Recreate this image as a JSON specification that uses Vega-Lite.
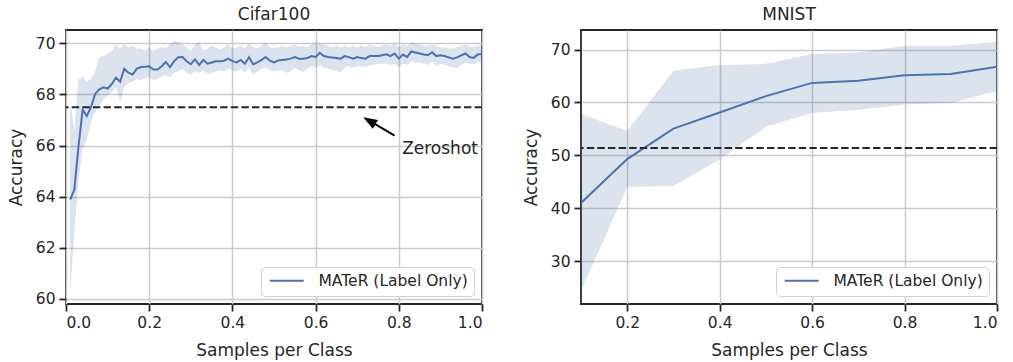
{
  "$schema": "https://vega.github.io/schema/vega-lite/v6.json",
  "padding": {"left": 6, "top": 5, "right": 8, "bottom": 0},
  "background": "white",
  "config": {
    "font": "DejaVu Sans",
    "view": {"stroke": "#262626", "strokeWidth": 1.8},
    "axis": {
      "grid": true, "gridColor": "#cccccc", "gridWidth": 1.5, "domain": false,
      "tickColor": "#262626", "tickWidth": 1.8, "tickSize": 7,
      "labelFontSize": 15.5, "labelColor": "#262626", "labelPadding": 4,
      "titleFontSize": 17, "titleFontWeight": "normal", "titleColor": "#262626"
    },
    "axisY": {"titlePadding": 10},
    "axisX": {"titlePadding": 12},
    "title": {"fontSize": 17, "fontWeight": "normal", "color": "#262626", "offset": 6},
    "legend": {
      "orient": "bottom-right", "offset": 8, "padding": 6, "strokeColor": "#d0d0d0",
      "fillColor": "white", "cornerRadius": 4, "labelFontSize": 15.5, "labelColor": "#262626",
      "symbolType": "M-1,0L5.8,0", "symbolStrokeWidth": 2, "symbolSize": 100, "labelOffset": 36
    }
  },
  "datasets": {
    "cifar": [
      {"x": 0.01, "m": 63.88, "hi": 67.8, "lo": 60.25, "series": "MATeR (Label Only)"},
      {"x": 0.02, "m": 64.27, "hi": 66.6, "lo": 62.6, "series": "MATeR (Label Only)"},
      {"x": 0.03, "m": 65.96, "hi": 68.6, "lo": 64.6, "series": "MATeR (Label Only)"},
      {"x": 0.04, "m": 67.40, "hi": 68.7, "lo": 65.9, "series": "MATeR (Label Only)"},
      {"x": 0.05, "m": 67.16, "hi": 68.5, "lo": 66.2, "series": "MATeR (Label Only)"},
      {"x": 0.06, "m": 67.50, "hi": 68.6, "lo": 66.9, "series": "MATeR (Label Only)"},
      {"x": 0.07, "m": 68.02, "hi": 68.9, "lo": 67.3, "series": "MATeR (Label Only)"},
      {"x": 0.08, "m": 68.20, "hi": 69.45, "lo": 67.55, "series": "MATeR (Label Only)"},
      {"x": 0.09, "m": 68.28, "hi": 69.5, "lo": 67.8, "series": "MATeR (Label Only)"},
      {"x": 0.10, "m": 68.23, "hi": 69.6, "lo": 67.95, "series": "MATeR (Label Only)"},
      {"x": 0.11, "m": 68.40, "hi": 69.7, "lo": 68.1, "series": "MATeR (Label Only)"},
      {"x": 0.12, "m": 68.66, "hi": 69.95, "lo": 68.3, "series": "MATeR (Label Only)"},
      {"x": 0.13, "m": 68.50, "hi": 69.8, "lo": 67.7, "series": "MATeR (Label Only)"},
      {"x": 0.14, "m": 69.00, "hi": 69.95, "lo": 68.3, "series": "MATeR (Label Only)"},
      {"x": 0.15, "m": 68.85, "hi": 69.85, "lo": 68.45, "series": "MATeR (Label Only)"},
      {"x": 0.16, "m": 68.78, "hi": 69.9, "lo": 68.5, "series": "MATeR (Label Only)"},
      {"x": 0.17, "m": 69.00, "hi": 69.8, "lo": 68.6, "series": "MATeR (Label Only)"},
      {"x": 0.18, "m": 69.07, "hi": 69.8, "lo": 68.55, "series": "MATeR (Label Only)"},
      {"x": 0.19, "m": 69.08, "hi": 69.7, "lo": 68.62, "series": "MATeR (Label Only)"},
      {"x": 0.20, "m": 69.10, "hi": 69.85, "lo": 68.7, "series": "MATeR (Label Only)"},
      {"x": 0.21, "m": 68.97, "hi": 69.7, "lo": 68.55, "series": "MATeR (Label Only)"},
      {"x": 0.22, "m": 68.97, "hi": 69.8, "lo": 68.6, "series": "MATeR (Label Only)"},
      {"x": 0.23, "m": 69.10, "hi": 69.85, "lo": 68.7, "series": "MATeR (Label Only)"},
      {"x": 0.24, "m": 69.27, "hi": 69.8, "lo": 68.75, "series": "MATeR (Label Only)"},
      {"x": 0.25, "m": 69.07, "hi": 69.95, "lo": 68.65, "series": "MATeR (Label Only)"},
      {"x": 0.26, "m": 69.30, "hi": 70.1, "lo": 68.85, "series": "MATeR (Label Only)"},
      {"x": 0.27, "m": 69.45, "hi": 70.05, "lo": 68.9, "series": "MATeR (Label Only)"},
      {"x": 0.28, "m": 69.46, "hi": 69.95, "lo": 69.0, "series": "MATeR (Label Only)"},
      {"x": 0.29, "m": 69.30, "hi": 69.85, "lo": 68.85, "series": "MATeR (Label Only)"},
      {"x": 0.30, "m": 69.18, "hi": 69.7, "lo": 68.75, "series": "MATeR (Label Only)"},
      {"x": 0.31, "m": 69.37, "hi": 69.95, "lo": 68.9, "series": "MATeR (Label Only)"},
      {"x": 0.32, "m": 69.15, "hi": 70.05, "lo": 68.85, "series": "MATeR (Label Only)"},
      {"x": 0.33, "m": 69.35, "hi": 69.75, "lo": 68.95, "series": "MATeR (Label Only)"},
      {"x": 0.34, "m": 69.20, "hi": 69.8, "lo": 68.8, "series": "MATeR (Label Only)"},
      {"x": 0.35, "m": 69.25, "hi": 69.9, "lo": 68.85, "series": "MATeR (Label Only)"},
      {"x": 0.36, "m": 69.30, "hi": 69.85, "lo": 68.9, "series": "MATeR (Label Only)"},
      {"x": 0.37, "m": 69.30, "hi": 69.75, "lo": 68.95, "series": "MATeR (Label Only)"},
      {"x": 0.38, "m": 69.32, "hi": 69.85, "lo": 68.9, "series": "MATeR (Label Only)"},
      {"x": 0.39, "m": 69.40, "hi": 69.95, "lo": 69.0, "series": "MATeR (Label Only)"},
      {"x": 0.40, "m": 69.30, "hi": 69.8, "lo": 68.95, "series": "MATeR (Label Only)"},
      {"x": 0.41, "m": 69.25, "hi": 69.85, "lo": 68.9, "series": "MATeR (Label Only)"},
      {"x": 0.42, "m": 69.35, "hi": 69.9, "lo": 69.0, "series": "MATeR (Label Only)"},
      {"x": 0.43, "m": 69.20, "hi": 69.8, "lo": 68.85, "series": "MATeR (Label Only)"},
      {"x": 0.44, "m": 69.46, "hi": 70.0, "lo": 69.05, "series": "MATeR (Label Only)"},
      {"x": 0.45, "m": 69.18, "hi": 69.85, "lo": 68.75, "series": "MATeR (Label Only)"},
      {"x": 0.46, "m": 69.25, "hi": 69.8, "lo": 68.9, "series": "MATeR (Label Only)"},
      {"x": 0.47, "m": 69.35, "hi": 69.9, "lo": 69.0, "series": "MATeR (Label Only)"},
      {"x": 0.48, "m": 69.46, "hi": 70.05, "lo": 69.05, "series": "MATeR (Label Only)"},
      {"x": 0.49, "m": 69.32, "hi": 69.85, "lo": 68.95, "series": "MATeR (Label Only)"},
      {"x": 0.50, "m": 69.25, "hi": 69.8, "lo": 68.9, "series": "MATeR (Label Only)"},
      {"x": 0.51, "m": 69.33, "hi": 69.85, "lo": 68.95, "series": "MATeR (Label Only)"},
      {"x": 0.52, "m": 69.35, "hi": 69.9, "lo": 68.95, "series": "MATeR (Label Only)"},
      {"x": 0.53, "m": 69.37, "hi": 69.85, "lo": 68.85, "series": "MATeR (Label Only)"},
      {"x": 0.54, "m": 69.40, "hi": 69.9, "lo": 68.9, "series": "MATeR (Label Only)"},
      {"x": 0.55, "m": 69.46, "hi": 69.95, "lo": 69.05, "series": "MATeR (Label Only)"},
      {"x": 0.56, "m": 69.40, "hi": 69.85, "lo": 68.95, "series": "MATeR (Label Only)"},
      {"x": 0.57, "m": 69.40, "hi": 69.9, "lo": 68.88, "series": "MATeR (Label Only)"},
      {"x": 0.58, "m": 69.42, "hi": 69.85, "lo": 69.0, "series": "MATeR (Label Only)"},
      {"x": 0.59, "m": 69.50, "hi": 69.95, "lo": 69.1, "series": "MATeR (Label Only)"},
      {"x": 0.60, "m": 69.46, "hi": 70.05, "lo": 69.05, "series": "MATeR (Label Only)"},
      {"x": 0.61, "m": 69.63, "hi": 70.0, "lo": 69.15, "series": "MATeR (Label Only)"},
      {"x": 0.62, "m": 69.50, "hi": 69.95, "lo": 69.05, "series": "MATeR (Label Only)"},
      {"x": 0.63, "m": 69.46, "hi": 69.9, "lo": 69.0, "series": "MATeR (Label Only)"},
      {"x": 0.64, "m": 69.44, "hi": 69.85, "lo": 68.95, "series": "MATeR (Label Only)"},
      {"x": 0.65, "m": 69.42, "hi": 69.9, "lo": 68.95, "series": "MATeR (Label Only)"},
      {"x": 0.66, "m": 69.40, "hi": 69.85, "lo": 68.85, "series": "MATeR (Label Only)"},
      {"x": 0.67, "m": 69.50, "hi": 69.9, "lo": 69.05, "series": "MATeR (Label Only)"},
      {"x": 0.68, "m": 69.46, "hi": 69.85, "lo": 69.1, "series": "MATeR (Label Only)"},
      {"x": 0.69, "m": 69.40, "hi": 69.9, "lo": 69.05, "series": "MATeR (Label Only)"},
      {"x": 0.70, "m": 69.46, "hi": 69.85, "lo": 69.1, "series": "MATeR (Label Only)"},
      {"x": 0.71, "m": 69.42, "hi": 69.9, "lo": 69.1, "series": "MATeR (Label Only)"},
      {"x": 0.72, "m": 69.40, "hi": 69.85, "lo": 69.05, "series": "MATeR (Label Only)"},
      {"x": 0.73, "m": 69.50, "hi": 69.95, "lo": 69.15, "series": "MATeR (Label Only)"},
      {"x": 0.74, "m": 69.50, "hi": 69.9, "lo": 69.15, "series": "MATeR (Label Only)"},
      {"x": 0.75, "m": 69.50, "hi": 69.85, "lo": 69.2, "series": "MATeR (Label Only)"},
      {"x": 0.76, "m": 69.53, "hi": 69.9, "lo": 69.2, "series": "MATeR (Label Only)"},
      {"x": 0.77, "m": 69.57, "hi": 69.95, "lo": 69.2, "series": "MATeR (Label Only)"},
      {"x": 0.78, "m": 69.50, "hi": 69.9, "lo": 69.15, "series": "MATeR (Label Only)"},
      {"x": 0.79, "m": 69.60, "hi": 70.0, "lo": 69.2, "series": "MATeR (Label Only)"},
      {"x": 0.80, "m": 69.40, "hi": 69.85, "lo": 69.05, "series": "MATeR (Label Only)"},
      {"x": 0.81, "m": 69.56, "hi": 69.95, "lo": 69.2, "series": "MATeR (Label Only)"},
      {"x": 0.82, "m": 69.46, "hi": 69.9, "lo": 69.15, "series": "MATeR (Label Only)"},
      {"x": 0.83, "m": 69.68, "hi": 70.05, "lo": 69.3, "series": "MATeR (Label Only)"},
      {"x": 0.84, "m": 69.64, "hi": 70.0, "lo": 69.25, "series": "MATeR (Label Only)"},
      {"x": 0.85, "m": 69.60, "hi": 69.95, "lo": 69.25, "series": "MATeR (Label Only)"},
      {"x": 0.86, "m": 69.56, "hi": 69.9, "lo": 69.2, "series": "MATeR (Label Only)"},
      {"x": 0.87, "m": 69.53, "hi": 69.9, "lo": 69.15, "series": "MATeR (Label Only)"},
      {"x": 0.88, "m": 69.65, "hi": 69.95, "lo": 69.3, "series": "MATeR (Label Only)"},
      {"x": 0.89, "m": 69.50, "hi": 69.9, "lo": 69.1, "series": "MATeR (Label Only)"},
      {"x": 0.90, "m": 69.53, "hi": 69.85, "lo": 69.2, "series": "MATeR (Label Only)"},
      {"x": 0.91, "m": 69.50, "hi": 69.85, "lo": 69.15, "series": "MATeR (Label Only)"},
      {"x": 0.92, "m": 69.45, "hi": 69.8, "lo": 69.1, "series": "MATeR (Label Only)"},
      {"x": 0.93, "m": 69.40, "hi": 69.8, "lo": 69.05, "series": "MATeR (Label Only)"},
      {"x": 0.94, "m": 69.45, "hi": 69.85, "lo": 69.05, "series": "MATeR (Label Only)"},
      {"x": 0.95, "m": 69.53, "hi": 69.9, "lo": 69.15, "series": "MATeR (Label Only)"},
      {"x": 0.96, "m": 69.60, "hi": 69.95, "lo": 69.25, "series": "MATeR (Label Only)"},
      {"x": 0.97, "m": 69.46, "hi": 69.9, "lo": 69.2, "series": "MATeR (Label Only)"},
      {"x": 0.98, "m": 69.43, "hi": 69.85, "lo": 69.2, "series": "MATeR (Label Only)"},
      {"x": 0.99, "m": 69.56, "hi": 69.9, "lo": 69.25, "series": "MATeR (Label Only)"},
      {"x": 1.00, "m": 69.58, "hi": 69.9, "lo": 69.25, "series": "MATeR (Label Only)"}
    ],
    "mnist": [
      {"x": 0.1, "m": 41.0, "hi": 57.8, "lo": 24.4, "series": "MATeR (Label Only)"},
      {"x": 0.2, "m": 49.3, "hi": 54.6, "lo": 44.0, "series": "MATeR (Label Only)"},
      {"x": 0.3, "m": 55.05, "hi": 66.0, "lo": 44.2, "series": "MATeR (Label Only)"},
      {"x": 0.4, "m": 58.1, "hi": 67.1, "lo": 49.2, "series": "MATeR (Label Only)"},
      {"x": 0.5, "m": 61.2, "hi": 67.3, "lo": 55.4, "series": "MATeR (Label Only)"},
      {"x": 0.6, "m": 63.7, "hi": 69.15, "lo": 58.0, "series": "MATeR (Label Only)"},
      {"x": 0.7, "m": 64.1, "hi": 69.45, "lo": 58.6, "series": "MATeR (Label Only)"},
      {"x": 0.8, "m": 65.15, "hi": 70.7, "lo": 59.6, "series": "MATeR (Label Only)"},
      {"x": 0.9, "m": 65.4, "hi": 70.7, "lo": 59.9, "series": "MATeR (Label Only)"},
      {"x": 1.0, "m": 66.75, "hi": 71.5, "lo": 62.1, "series": "MATeR (Label Only)"}
    ],
    "zs_cifar": [{"acc": 67.5}],
    "zs_mnist": [{"acc": 51.4}],
    "annot_text": [{"x": 0.808, "y": 65.68, "label": "Zeroshot"}],
    "annot_arrow": [{"x": 0.790, "y": 66.39, "x2": 0.729, "y2": 66.97}],
    "annot_head": [{"x": 0.729, "y": 66.97}]
  },
  "bounds": "flush",
  "spacing": 99,
  "resolve": {"scale": {"stroke": "independent"}, "legend": {"stroke": "independent"}},
  "hconcat": [
    {
      "width": 416, "height": 274,
      "title": "Cifar100",
      "layer": [
        {
          "data": {"name": "cifar"},
          "mark": {"type": "area", "color": "#4c72b0", "opacity": 0.2, "clip": true},
          "encoding": {
            "x": {"field": "x", "type": "quantitative", "scale": {"domain": [0, 1], "nice": false, "zero": false}, "axis": {"values": [0, 0.2, 0.4, 0.6, 0.8, 1.0], "format": ".1f"}, "title": "Samples per Class"},
            "y": {"field": "hi", "type": "quantitative", "scale": {"domain": [59.8, 70.52], "nice": false, "zero": false}, "axis": {"values": [60, 62, 64, 66, 68, 70]}, "title": "Accuracy"},
            "y2": {"field": "lo"}
          }
        },
        {
          "data": {"name": "cifar"},
          "mark": {"type": "line", "strokeWidth": 2, "clip": true},
          "encoding": {
            "x": {"field": "x", "type": "quantitative", "title": "Samples per Class"},
            "y": {"field": "m", "type": "quantitative", "title": "Accuracy"},
            "stroke": {"field": "series", "type": "nominal", "scale": {"domain": ["MATeR (Label Only)"], "range": ["#4c72b0"]}, "legend": {"title": null}}
          }
        },
        {
          "data": {"name": "zs_cifar"},
          "mark": {"type": "rule", "strokeDash": [7.4, 3.2], "strokeWidth": 2, "color": "#262626"},
          "encoding": {"y": {"field": "acc", "type": "quantitative", "title": "Accuracy"}}
        },
        {
          "data": {"name": "annot_arrow"},
          "mark": {"type": "rule", "strokeWidth": 2, "color": "black"},
          "encoding": {
            "x": {"field": "x", "type": "quantitative", "title": "Samples per Class"},
            "y": {"field": "y", "type": "quantitative", "title": "Accuracy"},
            "x2": {"field": "x2"},
            "y2": {"field": "y2"}
          }
        },
        {
          "data": {"name": "annot_head"},
          "mark": {"type": "point", "shape": "M0,-1L0.72,1L-0.72,1Z", "size": 200, "filled": true, "color": "black", "opacity": 1, "angle": -59.6},
          "encoding": {
            "x": {"field": "x", "type": "quantitative", "title": "Samples per Class"},
            "y": {"field": "y", "type": "quantitative", "title": "Accuracy"}
          }
        },
        {
          "data": {"name": "annot_text"},
          "mark": {"type": "text", "align": "left", "baseline": "alphabetic", "fontSize": 17, "color": "#262626"},
          "encoding": {
            "x": {"field": "x", "type": "quantitative", "title": "Samples per Class"},
            "y": {"field": "y", "type": "quantitative", "title": "Accuracy"},
            "text": {"field": "label"}
          }
        }
      ]
    },
    {
      "width": 416, "height": 274,
      "title": "MNIST",
      "layer": [
        {
          "data": {"name": "mnist"},
          "mark": {"type": "area", "color": "#4c72b0", "opacity": 0.2, "clip": true},
          "encoding": {
            "x": {"field": "x", "type": "quantitative", "scale": {"domain": [0.1, 1], "nice": false, "zero": false}, "axis": {"values": [0.2, 0.4, 0.6, 0.8, 1.0], "format": ".1f"}, "title": "Samples per Class"},
            "y": {"field": "hi", "type": "quantitative", "scale": {"domain": [21.9, 73.7], "nice": false, "zero": false}, "axis": {"values": [30, 40, 50, 60, 70]}, "title": "Accuracy"},
            "y2": {"field": "lo"}
          }
        },
        {
          "data": {"name": "mnist"},
          "mark": {"type": "line", "strokeWidth": 2, "clip": true},
          "encoding": {
            "x": {"field": "x", "type": "quantitative", "title": "Samples per Class"},
            "y": {"field": "m", "type": "quantitative", "title": "Accuracy"},
            "stroke": {"field": "series", "type": "nominal", "scale": {"domain": ["MATeR (Label Only)"], "range": ["#4c72b0"]}, "legend": {"title": null}}
          }
        },
        {
          "data": {"name": "zs_mnist"},
          "mark": {"type": "rule", "strokeDash": [7.4, 3.2], "strokeWidth": 2, "color": "#262626"},
          "encoding": {"y": {"field": "acc", "type": "quantitative", "title": "Accuracy"}}
        }
      ]
    }
  ]
}
